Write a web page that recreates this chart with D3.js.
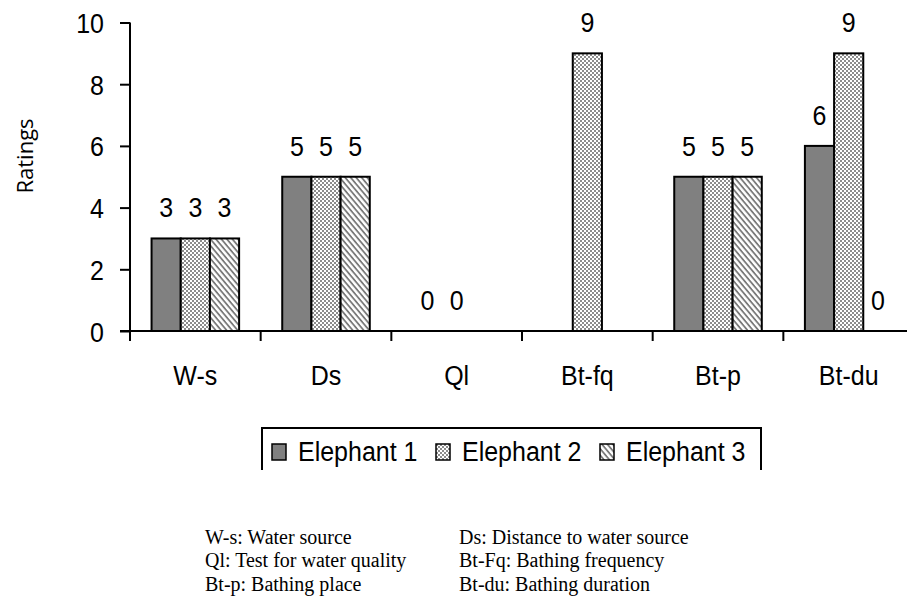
<!DOCTYPE html>
<html>
<head>
<meta charset="utf-8">
<script src="https://cdn.jsdelivr.net/npm/d3@7"></script>
<style>
  html, body { margin: 0; padding: 0; background: #fff; }
  svg { display: block; }
</style>
</head>
<body>
<script>
const categories = ["W-s", "Ds", "Ql", "Bt-fq", "Bt-p", "Bt-du"];
const seriesNames = ["Elephant 1", "Elephant 2", "Elephant 3"];
const elephant1 = [3, 5, 0, null, 5, 6];
const elephant2 = [3, 5, 0, 9, 5, 9];
const elephant3 = [3, 5, null, null, 5, 0];
const yTicks = [0, 2, 4, 6, 8, 10];
const yLabel = "Ratings";
const notesLeft = ["W-s: Water source", "Ql: Test for water quality", "Bt-p: Bathing place"];
const notesRight = ["Ds: Distance to water source", "Bt-Fq: Bathing frequency", "Bt-du: Bathing duration"];

const seriesValues = [elephant1, elephant2, elephant3];
const W = 907, H = 598;
const SY = 1.12; // vertical text stretch
const svg = d3.select("body").append("svg").attr("width", W).attr("height", H);

const defs = svg.append("defs");
// checker pattern
const chk = defs.append("pattern").attr("id", "pat2").attr("patternUnits", "userSpaceOnUse")
  .attr("width", 4).attr("height", 4);
chk.append("rect").attr("width", 4).attr("height", 4).attr("fill", "#fff");
chk.append("rect").attr("width", 2).attr("height", 2).attr("fill", "#8c8c8c");
chk.append("rect").attr("x", 2).attr("y", 2).attr("width", 2).attr("height", 2).attr("fill", "#8c8c8c");
// diagonal hatch (top-left to bottom-right)
const hat = defs.append("pattern").attr("id", "pat3").attr("patternUnits", "userSpaceOnUse")
  .attr("width", 4.2).attr("height", 4.2).attr("patternTransform", "rotate(50)");
hat.append("rect").attr("width", 4.2).attr("height", 4.2).attr("fill", "#fff");
hat.append("rect").attr("width", 4.2).attr("height", 1.8).attr("fill", "#7a7a7a");

const fills = ["#808080", "url(#pat2)", "url(#pat3)"];

const x0 = 130, band = 130.67;
const x = d3.scaleBand().domain(categories).range([x0, x0 + band * categories.length]).paddingInner(0).paddingOuter(0);
const x1 = d3.scaleBand().domain(seriesNames).range([x.bandwidth() * 0.165, x.bandwidth() * 0.835]).padding(0);
const y = d3.scaleLinear().domain([0, 10]).range([331, 22.5]);

const sansFont = "'Liberation Sans', Arial, sans-serif";
const fs = 25;

function stext(g, tx, ty, str, opts = {}) {
  return g.append("text")
    .attr("transform", `translate(${tx},${ty}) scale(1,${opts.sy || SY})`)
    .attr("text-anchor", opts.anchor || "start")
    .attr("font-family", opts.font || sansFont)
    .attr("font-size", opts.size || fs)
    .attr("fill", "#000")
    .text(str);
}

// bars
const data = [];
categories.forEach((c, i) => seriesNames.forEach((s, j) => {
  data.push({ c, s, j, v: seriesValues[j][i] });
}));
svg.append("g").selectAll("rect").data(data.filter(d => d.v !== null && d.v > 0)).join("rect")
  .attr("x", d => x(d.c) + x1(d.s))
  .attr("y", d => y(d.v))
  .attr("width", x1.bandwidth())
  .attr("height", d => y(0) - y(d.v))
  .attr("fill", d => fills[d.j])
  .attr("stroke", "#000").attr("stroke-width", 2);

// value labels
const vg = svg.append("g");
data.filter(d => d.v !== null).forEach(d => {
  stext(vg, x(d.c) + x1(d.s) + x1.bandwidth() / 2, y(d.v) - 21, d.v, { anchor: "middle" });
});

// y axis
const yAxis = svg.append("g").attr("transform", `translate(${x0},0)`)
  .call(d3.axisLeft(y).tickValues(yTicks).tickSize(10).tickPadding(16));
yAxis.select(".domain").attr("stroke", "#000").attr("stroke-width", 2).attr("d", `M0,${y(10)}V${y(0)}`);
yAxis.selectAll(".tick line").attr("stroke", "#000").attr("stroke-width", 2);
yAxis.selectAll(".tick text").attr("font-family", sansFont).attr("font-size", fs).attr("fill", "#000")
  .attr("dy", "0.36em").attr("transform", `scale(1,${SY})`);

// x axis
const xg = svg.append("g");
xg.append("line").attr("x1", x0 - 10).attr("x2", W).attr("y1", y(0)).attr("y2", y(0))
  .attr("stroke", "#000").attr("stroke-width", 2);
xg.selectAll("line.tk").data(categories).join("line").attr("class", "tk")
  .attr("x1", d => x(d)).attr("x2", d => x(d))
  .attr("y1", y(0)).attr("y2", y(0) + 10)
  .attr("stroke", "#000").attr("stroke-width", 2);
categories.forEach(c => stext(xg, x(c) + x.bandwidth() / 2, 385, c, { anchor: "middle" }));

// y label
svg.append("text")
  .attr("transform", `translate(33,156) rotate(-90)`)
  .attr("text-anchor", "middle")
  .attr("font-family", "'Open Sans', sans-serif").attr("font-size", 22)
  .text(yLabel);

// legend
const lg = svg.append("g");
lg.append("path").attr("d", "M262,470V428H761V470").attr("fill", "none").attr("stroke", "#000").attr("stroke-width", 2);
const lx = [272, 436, 600];
seriesNames.forEach((s, j) => {
  lg.append("rect").attr("x", lx[j]).attr("y", 444).attr("width", 14).attr("height", 16)
    .attr("fill", fills[j]).attr("stroke", "#000").attr("stroke-width", 1.5);
  stext(lg, lx[j] + 26, 461, s);
});

// footnotes
const serif = "'Liberation Serif', 'Times New Roman', serif";
const nb = [544, 567, 591];
const fg = svg.append("g");
notesLeft.forEach((t, i) => stext(fg, 205, nb[i], t, { font: serif, size: 20, sy: 1.08 }));
notesRight.forEach((t, i) => stext(fg, 459, nb[i], t, { font: serif, size: 20, sy: 1.08 }));
</script>
</body>
</html>
